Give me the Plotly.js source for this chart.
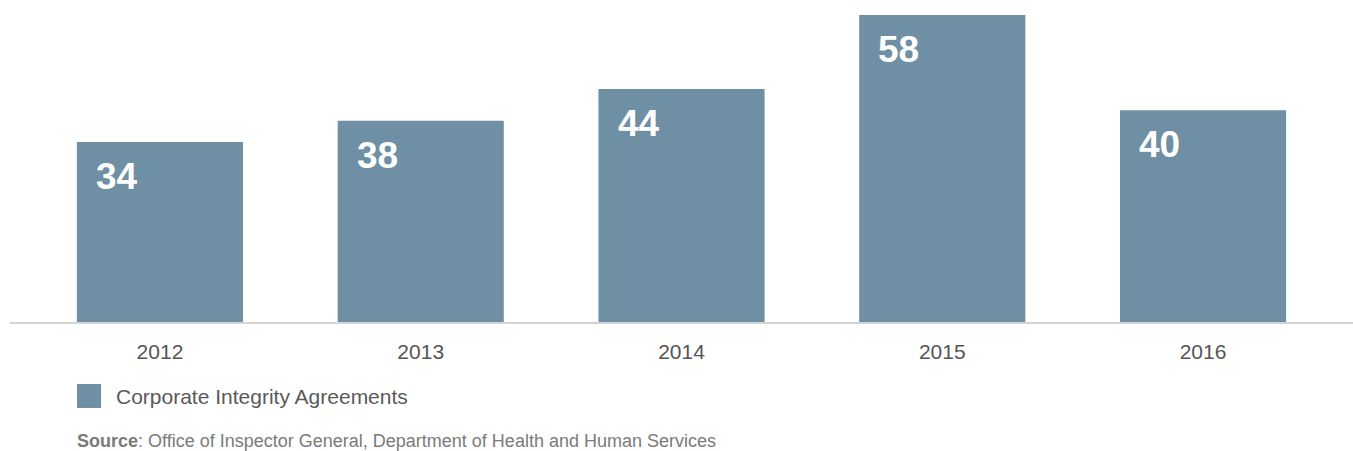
<!DOCTYPE html>
<html>
<head>
<meta charset="utf-8">
<script src="https://cdn.plot.ly/plotly-3.0.1.min.js"></script>
<style>html,body{margin:0;padding:0;background:#fff;}#chart{width:1353px;height:451px;}</style>
</head>
<body>
<div id="chart"></div>
<script>
var years = ["2012", "2013", "2014", "2015", "2016"];
var agreements = [34, 38, 44, 58, 40];
var seriesName = "Corporate Integrity Agreements";
var sourceLabel = "Source";
var sourceText = "Office of Inspector General, Department of Health and Human Services";

var barColor = "#6f8fa4";

var trace = {
  type: "bar",
  x: years,
  y: agreements,
  name: seriesName,
  marker: {color: barColor},
  hoverinfo: "x+y",
  showlegend: false
};

var valueAnnotations = years.map(function (yr, i) {
  return {
    x: i, y: agreements[i], xref: "x", yref: "y",
    text: "<b>" + agreements[i] + "</b>",
    showarrow: false, xanchor: "left", yanchor: "top",
    xshift: -66, yshift: -12,
    font: {family: "Liberation Sans, Arial, sans-serif", size: 37, color: "#ffffff"}
  };
});

var layout = {
  width: 1353, height: 451,
  margin: {l: 10, r: 0, t: 15, b: 129},
  paper_bgcolor: "#ffffff", plot_bgcolor: "#ffffff",
  bargap: 0.363,
  xaxis: {
    type: "category",
    range: [-0.575, 4.575],
    showline: true, linecolor: "#d4d4d4", linewidth: 2,
    showgrid: false, zeroline: false,
    ticks: "outside", ticklen: 10, tickcolor: "rgba(0,0,0,0)",
    tickfont: {family: "Liberation Sans, Arial, sans-serif", size: 21, color: "#555555"}
  },
  yaxis: {
    range: [0, 58], visible: false, showgrid: false, zeroline: false
  },
  shapes: [{
    type: "rect", xref: "paper", yref: "paper",
    x0: 0.0499, x1: 0.0678, y0: -0.202, y1: -0.280,
    fillcolor: barColor, line: {width: 0}
  }],
  annotations: valueAnnotations.concat([
    {
      xref: "paper", yref: "paper", x: 0.0775, y: -0.244,
      xanchor: "left", yanchor: "middle", showarrow: false,
      text: seriesName,
      font: {family: "Liberation Sans, Arial, sans-serif", size: 21, color: "#5a5a5a"}
    },
    {
      xref: "paper", yref: "paper", x: 0.0485, y: -0.388,
      xanchor: "left", yanchor: "middle", showarrow: false,
      text: "<b>" + sourceLabel + "</b>: " + sourceText,
      font: {family: "Liberation Sans, Arial, sans-serif", size: 18, color: "#7a7a7a"}
    }
  ])
};

Plotly.newPlot("chart", [trace], layout, {displayModeBar: false});
</script>
</body>
</html>
